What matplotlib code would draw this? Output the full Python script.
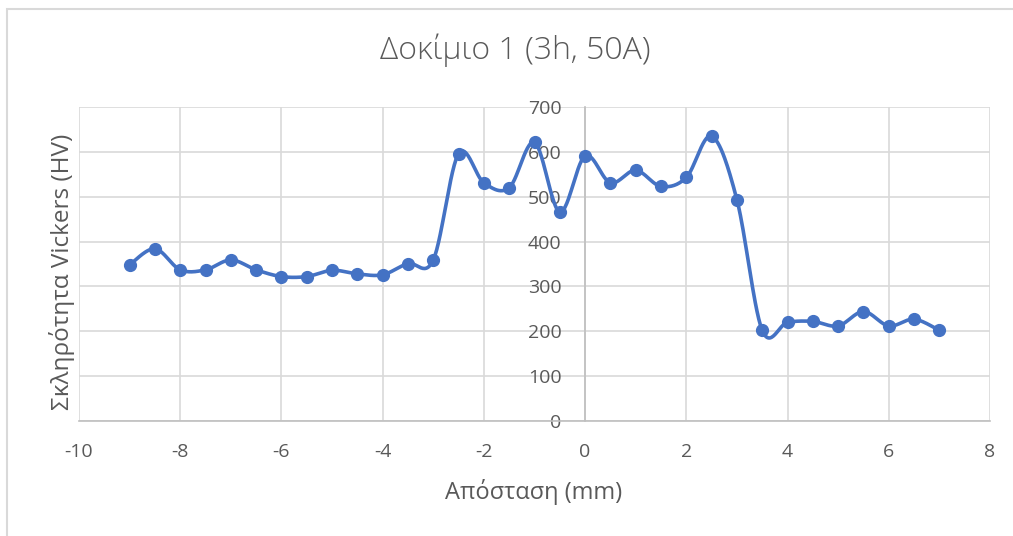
import numpy as np
import matplotlib
matplotlib.use("Agg")
import matplotlib.pyplot as plt
from matplotlib.patches import Rectangle

# Hardness profile across the specimen
distance_mm = [-9, -8.5, -8, -7.5, -7, -6.5, -6, -5.5, -5, -4.5, -4, -3.5, -3,
               -2.5, -2, -1.5, -1, -0.5, 0, 0.5, 1, 1.5, 2, 2.5, 3, 3.5,
               4, 4.5, 5, 5.5, 6, 6.5, 7]
hardness_hv = [348, 384, 337, 337, 359, 337, 322, 322, 336, 328, 326, 351, 359,
               596, 531, 520, 621, 466, 591, 531, 559, 523, 543, 635, 493, 202,
               220, 222, 212, 244, 212, 227, 202]

title = "Δοκίμιο 1 (3h, 50A)"
x_label = "Απόσταση (mm)"
y_label = "Σκληρότητα Vickers (HV)"
x_ticks = [-10, -8, -6, -4, -2, 0, 2, 4, 6, 8]
y_ticks = [0, 100, 200, 300, 400, 500, 600, 700]


def smooth_curve(x, y, n=30):
    """Cubic Bezier through every point with Catmull-Rom style handles."""
    x = np.asarray(x, float)
    y = np.asarray(y, float)
    px = np.concatenate([[x[0]], x, [x[-1]]])
    py = np.concatenate([[y[0]], y, [y[-1]]])
    t = np.linspace(0, 1, n)[:, None]
    xs, ys = [], []
    for i in range(1, len(px) - 2):
        p0 = np.array([px[i], py[i]])
        p3 = np.array([px[i + 1], py[i + 1]])
        p1 = p0 + (np.array([px[i + 1], py[i + 1]]) - np.array([px[i - 1], py[i - 1]])) / 6
        p2 = p3 - (np.array([px[i + 2], py[i + 2]]) - np.array([px[i], py[i]])) / 6
        pts = ((1 - t) ** 3) * p0 + 3 * ((1 - t) ** 2) * t * p1 + 3 * (1 - t) * t ** 2 * p2 + t ** 3 * p3
        xs.append(pts[:, 0])
        ys.append(pts[:, 1])
    return np.concatenate(xs), np.concatenate(ys)


plt.rcParams["font.family"] = ["Open Sans", "DejaVu Sans"]
plt.rcParams["axes.unicode_minus"] = False
text_color = "#595959"
line_color = "#4472C4"

fig = plt.figure(figsize=(10.13, 5.36), dpi=100)
# chart frame: only its top and left edges fall inside the image
fig.patches.append(Rectangle((7 / 1013, -0.1), 1.2, 1.1 - 9 / 536, transform=fig.transFigure,
                             fill=False, edgecolor="#d9d9d9", linewidth=1.5))

ax = fig.add_axes([79 / 1013, 115 / 536, 911 / 1013, 314 / 536])
ax.set_xlim(-10, 8)
ax.set_ylim(0, 700)
ax.set_xticks(x_ticks)
ax.set_yticks(y_ticks)
ax.grid(True, color="#d9d9d9", linewidth=1.2)
ax.set_axisbelow(True)

for side in ("top", "right"):
    ax.spines[side].set_visible(False)
ax.spines["left"].set_position(("data", 0))
ax.spines["left"].set_color("#bfbfbf")
ax.spines["bottom"].set_color("#bfbfbf")
ax.spines["left"].set_linewidth(1.2)
ax.spines["bottom"].set_linewidth(1.2)
ax.tick_params(length=0, labelsize=14, labelcolor=text_color)
ax.tick_params(axis="y", pad=17)
ax.tick_params(axis="x", pad=16)

sx, sy = smooth_curve(distance_mm, hardness_hv)
ax.plot(sx, sy, color=line_color, linewidth=2.6, solid_capstyle="round", zorder=3)
ax.plot(distance_mm, hardness_hv, "o", color=line_color, markersize=8.5, zorder=4)

fig.text(515 / 1013, 1 - 50 / 536, title, ha="center", va="center",
         fontsize=23, color=text_color, fontweight="light")
fig.text(534 / 1013, 1 - 492 / 536, x_label, ha="center", va="center",
         fontsize=17, color=text_color)
fig.text(62 / 1013, 1 - 272 / 536, y_label, ha="center", va="center",
         rotation=90, fontsize=17.5, color=text_color)

fig.savefig("out.png", dpi=100)
